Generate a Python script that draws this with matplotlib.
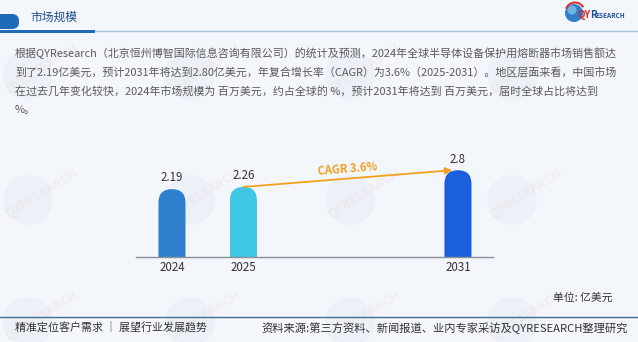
import math
import matplotlib
matplotlib.use("Agg")
import matplotlib.pyplot as plt
from matplotlib.patches import FancyBboxPatch, Circle, Rectangle, Wedge

plt.rcParams['font.family'] = ['Noto Sans CJK SC', 'DejaVu Sans']

# ---- data ----
years = ['2024', '2025', '2031']
sales = [2.19, 2.26, 2.80]
value_labels = ['2.19', '2.26', '2.8']
bar_colors = ['#2e80cf', '#40c6e6', '#1b5fdc']
cagr_label = 'CAGR 3.6%'
title = '市场规模'
body_lines = [
    '根据QYResearch（北京恒州博智国际信息咨询有限公司）的统计及预测，2024年全球半导体设备保护用熔断器市场销售额达',
    '到了2.19亿美元，预计2031年将达到2.80亿美元，年复合增长率（CAGR）为3.6%（2025-2031）。地区层面来看，中国市场',
    '在过去几年变化较快，2024年市场规模为 百万美元，约占全球的 %，预计2031年将达到 百万美元，届时全球占比将达到',
    '%。',
]
unit_label = '单位: 亿美元'
footer_left = '精准定位客户需求 ｜ 展望行业发展趋势'
footer_right = '资料来源:第三方资料、新闻报道、业内专家采访及QYRESEARCH整理研究'

# ---- figure ----
W, H = 638, 342
fig = plt.figure(figsize=(W / 100, H / 100), dpi=100)
fig.patch.set_facecolor('#f3f7fc')

# full-size pixel canvas for page decoration
bg = fig.add_axes([0, 0, 1, 1])
bg.set_xlim(0, W)
bg.set_ylim(H, 0)
bg.axis('off')

# faint brand watermarks
for wy in (75, 200, 322):
    for wx in (28, 190, 350, 512):
        bg.add_patch(Circle((wx, wy), 25, fc='#dfe8f3', ec='none', alpha=0.35, zorder=0))
        bg.text(wx + 14, wy - 6, 'QYRESEARCH', rotation=32, ha='center', va='center',
                fontsize=9, color='#efd3d8', alpha=0.3, fontweight='bold', zorder=0)

# header tab and rule
bg.add_patch(FancyBboxPatch((-12, 14), 31, 15, boxstyle='round,pad=0,rounding_size=7',
                            fc='#1e6bb8', ec='none', zorder=2))
bg.add_patch(Rectangle((0, 29.5), 95, 3, fc='#1e6bb8', ec='none', zorder=2))
bg.plot([95, W], [31, 31], color='#a9c2da', lw=1, zorder=1)
bg.text(30, 17, title, fontsize=8.5, color='#1f4f8f', va='center', ha='left', zorder=3)

# logo
bg.add_patch(Circle((574, 13), 9, fc='#2f80c6', ec='none', zorder=3))
bg.add_patch(Circle((572, 10), 4.5, fc='#7fc0ea', ec='none', alpha=0.8, zorder=3))
bg.add_patch(Wedge((575, 12), 10.5, 200, 330, width=2, fc='#d93030', ec='none', zorder=3))
bg.text(577, 15, 'QY', fontsize=7, color='#d52a2a', fontweight='bold', va='center', ha='left', zorder=4)
bg.text(590, 15, 'R', fontsize=7, color='#1c4f9c', fontweight='bold', va='center', ha='left', zorder=4)
bg.text(595.5, 15.5, 'ESEARCH', fontsize=4.6, color='#1c4f9c', fontweight='bold', va='center', ha='left', zorder=4)

# body paragraph
for i, line in enumerate(body_lines):
    bg.text(15, 53.5 + i * 19, line, fontsize=7.9, color='#5a5a5a', va='center', ha='left', zorder=3)

# footer
bg.text(613, 298, unit_label, fontsize=7.8, color='#333333', va='center', ha='right', zorder=3)
bg.plot([0, W], [317, 317], color='#3f6d92', lw=1, zorder=2)
bg.text(15, 328, footer_left, fontsize=7.9, color='#333333', va='center', ha='left', zorder=3)
bg.text(628, 328, footer_right, fontsize=8.1, color='#333333', va='center', ha='right', zorder=3)

# ---- bar chart ----
slots = [0, 1, 4]
ax_left, ax_right, ax_base, ax_h = 136, 493, 257, 108.5
ax = fig.add_axes([ax_left / W, 1 - ax_base / H, (ax_right - ax_left) / W, ax_h / H])
ax.patch.set_alpha(0)
xlim = (-0.503, 4.49)
ylim = (0, 3.5)
ax.set_xlim(*xlim)
ax.set_ylim(*ylim)
for s in ('top', 'right', 'left'):
    ax.spines[s].set_visible(False)
ax.spines['bottom'].set_color('#8a9099')
ax.spines['bottom'].set_linewidth(1)
ax.set_yticks([])
ax.set_xticks(slots, years)
ax.tick_params(axis='x', length=0, pad=3, labelsize=8.3, labelcolor='#333333')

# pixel-per-unit ratio so that the rounded tops stay circular
px_x = (ax_right - ax_left) / (xlim[1] - xlim[0])
px_y = ax_h / (ylim[1] - ylim[0])
aspect = px_x / px_y

bw = 0.378
r = bw / 2 * 0.999
for x, v, c, lab in zip(slots, sales, bar_colors, value_labels):
    ax.add_patch(FancyBboxPatch((x - bw / 2, -r * aspect), bw, v + r * aspect,
                                boxstyle=f'round,pad=0,rounding_size={r}',
                                mutation_aspect=aspect, fc=c, ec='none', zorder=2))
    ax.text(x, v + 0.36, lab, ha='center', va='center', fontsize=8.3, color='#333333', zorder=3)

# growth arrow between 2025 and 2031
x0, y0 = slots[1], sales[1]
x1, y1 = slots[2] - 0.08, sales[2]
ax.annotate('', xy=(x1, y1), xytext=(x0, y0),
            arrowprops=dict(arrowstyle='-|>', color='#f2a01e', lw=1.3,
                            mutation_scale=10, shrinkA=0, shrinkB=0), zorder=4)
angle = math.degrees(math.atan2((y1 - y0) * px_y, (x1 - x0) * px_x))
mx = (x0 + x1) / 2
my = y0 + (y1 - y0) * (mx - x0) / (x1 - x0)
ax.text(mx, my + 0.32, cagr_label, rotation=angle, rotation_mode='anchor',
        ha='center', va='center', fontsize=8, color='#f0a020', fontweight='bold', zorder=4)

fig.savefig('out.png', dpi=100, facecolor=fig.get_facecolor())
